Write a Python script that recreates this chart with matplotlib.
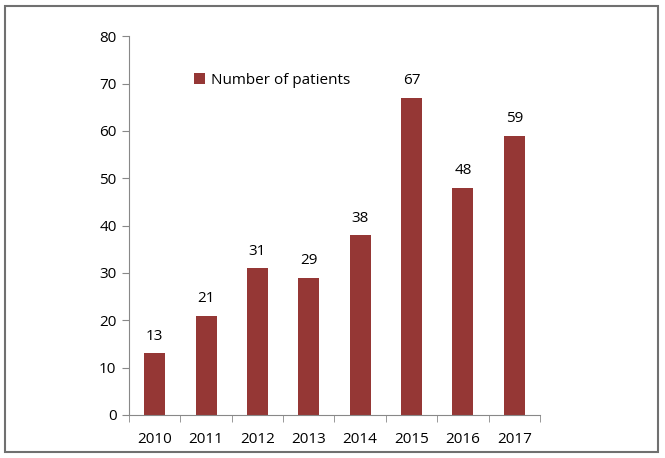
import matplotlib.pyplot as plt
from matplotlib.patches import Rectangle

years = ["2010", "2011", "2012", "2013", "2014", "2015", "2016", "2017"]
patients = [13, 21, 31, 29, 38, 67, 48, 59]

plt.rcParams["font.family"] = ["Open Sans", "DejaVu Sans"]

fig = plt.figure(figsize=(6.65, 4.58), dpi=100)
ax = fig.add_axes([0.194, 0.094, 0.618, 0.827])

x = range(len(years))
bars = ax.bar(x, patients, width=0.41, color="#953735", label="Number of patients")
for xi, v in zip(x, patients):
    ax.text(xi, v + 2, str(v), ha="center", va="bottom", fontsize=11)

ax.set_xlim(-0.5, len(years) - 0.5)
ax.set_ylim(0, 80)
ax.set_yticks(range(0, 81, 10))
ax.set_xticks(list(x))
ax.set_xticklabels(years)
ax.set_xticks([i - 0.5 for i in range(len(years) + 1)], minor=True)
ax.tick_params(axis="x", which="major", length=0, labelsize=11, pad=12)
ax.tick_params(axis="x", which="minor", length=5, color="#888888")
ax.tick_params(axis="y", length=5, color="#888888", labelsize=11, pad=4)

for s in ["top", "right"]:
    ax.spines[s].set_visible(False)
for s in ["left", "bottom"]:
    ax.spines[s].set_color("#888888")

ax.legend(loc="upper left", bbox_to_anchor=(0.125, 0.94), frameon=False,
          fontsize=11, handlelength=0.7, handleheight=0.7, handletextpad=0.4)

fig.patches.append(Rectangle((5 / 665, 6 / 458), 653 / 665, 446 / 458,
                             transform=fig.transFigure, fill=False,
                             edgecolor="#707070", linewidth=1.5))

fig.savefig("out.png", dpi=100)
